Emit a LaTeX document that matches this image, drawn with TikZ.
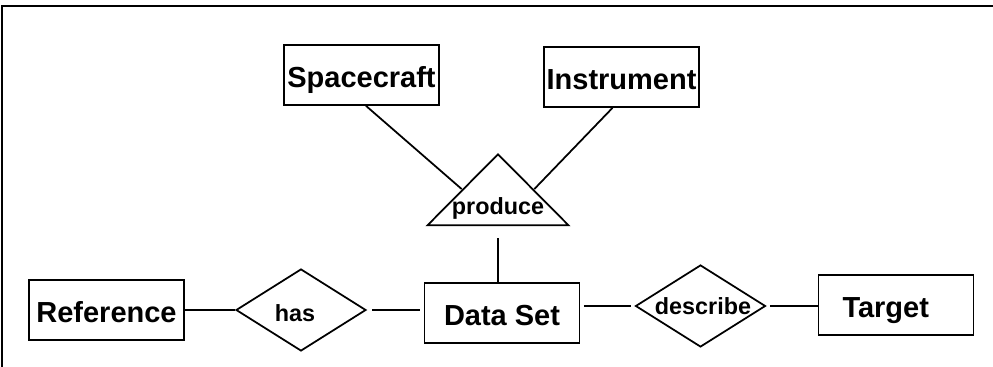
\documentclass[tikz,border=0pt]{standalone}
\usepackage{fontspec}
\setmainfont{Liberation Sans}
\usepackage{tikz}
\usetikzlibrary{shapes.geometric}

\tikzset{
	entity/.style={rectangle,draw,inner sep=0pt,minimum width=3.1cm,minimum height=1.2cm,
		text height=14pt,text depth=0pt,font=\fontsize{16.5}{18}\selectfont\bfseries},
	relation/.style={diamond,draw,inner sep=0pt,minimum width=2.6cm,minimum height=1.64cm},
	reltext/.style={anchor=base,inner sep=0pt,font=\fontsize{13.3}{15}\selectfont\bfseries},
}

\begin{document}
\begin{tikzpicture}[x=0.02cm,y=-0.02cm,line width=1pt]
\useasboundingbox (0,0) rectangle (993,367);
% open frame, top and left edge only
\draw (2,367) |- (993,6);

\begin{scope}
	\node[entity] (spacecraft) at (361.5,75) {Spacecraft};
	\node[entity] (instrument) at (621.5,77) {Instrument};
	\node[entity] (reference) at (106.5,310) {Reference};
	\node[entity] (dataset) at (502,313) {Data Set};
	\node[entity,text width=2.14cm,inner xsep=0.48cm,align=left] (target) at (896,305) {Target};

	\node[relation] (has) at (301,310) {};
	\node[relation] (describe) at (700.5,306) {};
	\node[isosceles triangle,draw,inner sep=0pt,isosceles triangle stretches,
		shape border rotate=90,minimum width=2.82cm,minimum height=1.42cm,
		anchor=apex] (produce) at (498,152) {};

	\node[reltext] (hastext) at (295,322) {has};
	\node[reltext] (describetext) at (703,315) {describe};
	\node[reltext] (producetext) at (498,215) {produce};
\end{scope}

\begin{scope}
	\draw ([xshift=0.09cm]spacecraft.south) -- (produce.left side);
	\draw ([xshift=-0.18cm]instrument.south) -- (produce.right side);
	\draw[shorten <=7pt] (produce.lower side) -- (produce.lower side |- dataset.north);
	\draw (reference.east) -- (has.west);
	\draw[shorten <=3pt,shorten >=2pt] (has.east) -- (dataset.west |- has.east);
	\draw[shorten <=2pt,shorten >=2pt] (dataset.east |- describe.west) -- (describe.west);
	\draw[shorten <=2pt] (describe.east) -- (target.west |- describe.east);
\end{scope}
\end{tikzpicture}
\end{document}
